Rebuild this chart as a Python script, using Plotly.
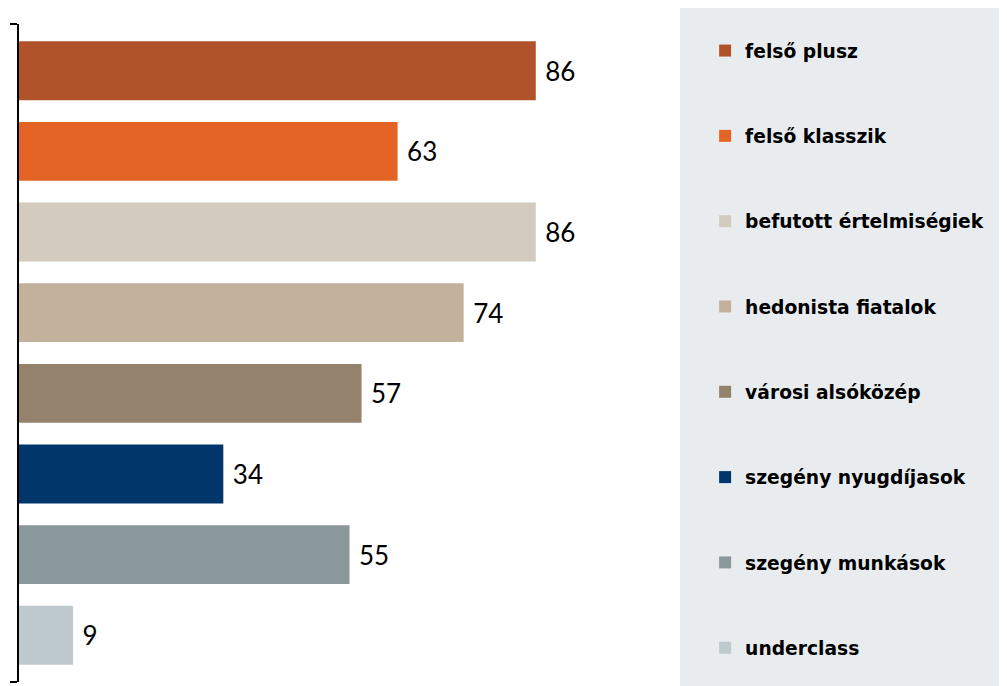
import plotly.graph_objects as go

categories = ["felső plusz", "felső klasszik", "befutott értelmiségiek", "hedonista fiatalok",
              "városi alsóközép", "szegény nyugdíjasok", "szegény munkások", "underclass"]
values = [86, 63, 86, 74, 57, 34, 55, 9]
colors = ["#b0532a", "#e36424", "#d3cbbd", "#c3b19c", "#94826d", "#00366a", "#8a979b", "#bec9cd"]

fig = go.Figure()
for i, (c, v, col) in enumerate(zip(categories, values, colors)):
    fig.add_trace(go.Bar(
        y=[i], x=[v], orientation="h", name=c, marker_color=col,
        marker_line_width=0, width=0.73,
        text=["\u2005" + str(v)], textposition="outside", cliponaxis=False,
        textfont=dict(family="Lato", size=26, color="black"),
        legendgroup=c, showlegend=True,
    ))

fig.update_layout(
    width=1007, height=686,
    margin=dict(l=11, r=335, t=16, b=12, autoexpand=False),
    paper_bgcolor="white", plot_bgcolor="white",
    barmode="overlay",
    showlegend=True,
    legend=dict(
        x=1.038, y=0.988, xanchor="left", yanchor="top",
        bgcolor="rgba(0,0,0,0)",
        font=dict(family="DejaVu Sans", size=18.7, color="black", weight="bold"),
        tracegroupgap=58, traceorder="grouped",
        itemwidth=30,
    ),
    xaxis=dict(range=[0, 110], visible=False, automargin=False),
    yaxis=dict(
        range=[7.58, -0.58], showline=True, linecolor="black", linewidth=2,
        tickmode="array", tickvals=[-0.58, 7.58], ticktext=["", ""],
        ticks="outside", ticklen=7, tickwidth=2, tickcolor="black",
        showgrid=False, zeroline=False, automargin=False,
    ),
    shapes=[dict(type="rect", xref="paper", yref="paper",
                 x0=1.0, x1=1.6, y0=-0.1, y1=1.03,
                 fillcolor="#e9ecee", line_width=0, layer="below")],
)

fig.write_html("out.html")
